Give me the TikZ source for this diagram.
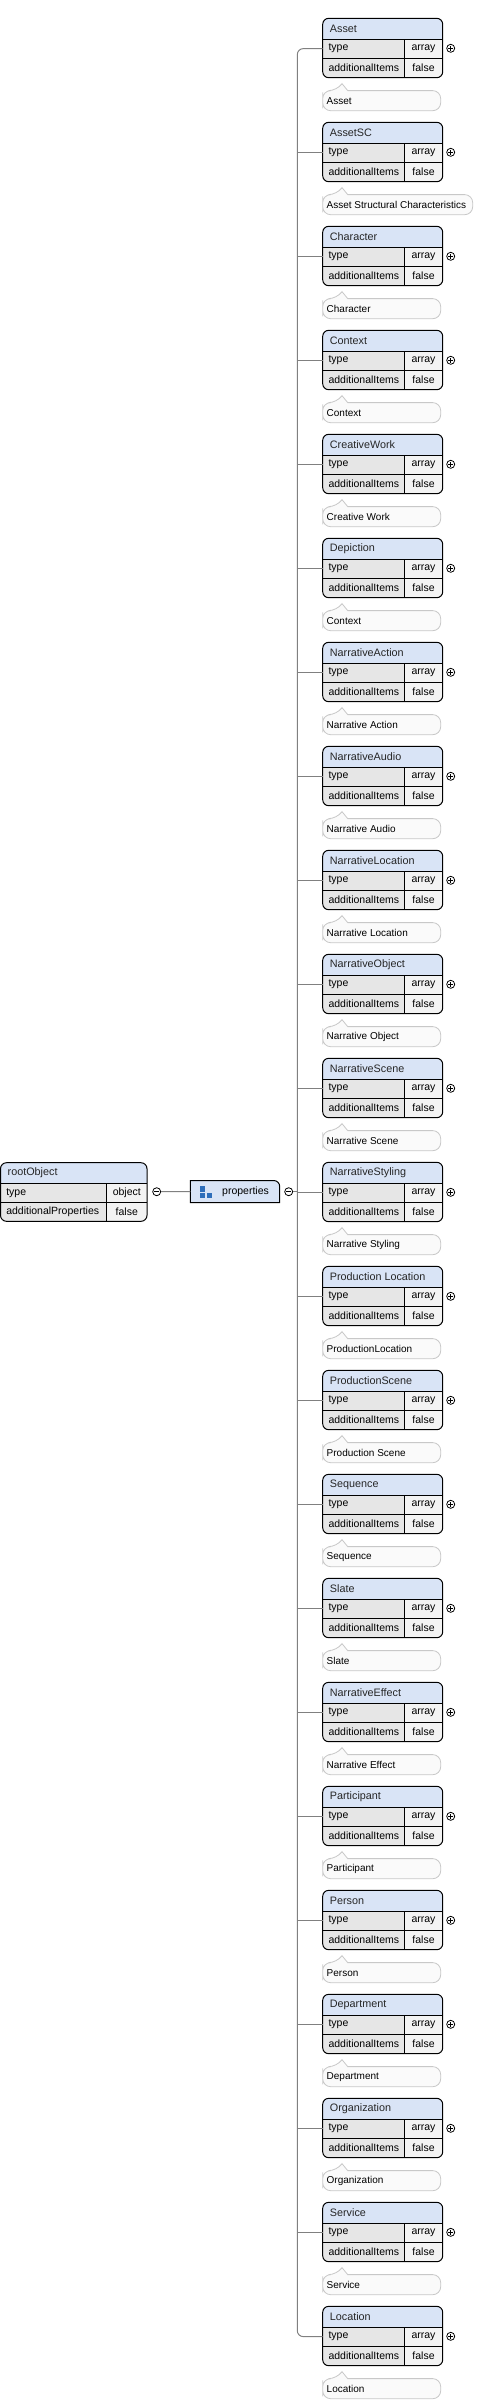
\documentclass[tikz,border=0pt]{standalone}
\usepackage{fontspec}
\setmainfont{Liberation Sans}
\usepackage{tikz}

\definecolor{hdrfill}{RGB}{217,228,246}
\definecolor{namefill}{RGB}{230,230,230}
\definecolor{valfill}{RGB}{243,243,243}
\definecolor{descfill}{RGB}{250,250,250}
\definecolor{descline}{RGB}{200,200,200}
\definecolor{connline}{RGB}{128,128,128}
\definecolor{iconblue}{RGB}{46,110,186}

\newcommand\hdrfont{\fontsize{10.8}{13}\selectfont}
\newcommand\rowfont{\fontsize{10.5}{12}\selectfont}
\newcommand\descfont{\fontsize{10}{12}\selectfont}

\begin{document}
\begin{tikzpicture}[x=1pt, y=-1pt,
  frame/.style={draw=black, line width=1pt},
  grid/.style={draw=black, line width=0.8pt},
  conn/.style={draw=connline, line width=1pt},
  hdrtxt/.style={font=\hdrfont, inner xsep=7pt, inner ysep=0pt, text=black!85},
  rowtxt/.style={font=\rowfont, inner xsep=5.6pt, inner ysep=0pt},
  desctxt/.style={font=\descfont, inner xsep=2.5pt, inner ysep=0pt},
  descbox/.style={draw=descline, fill=descfill, line width=0.8pt},
  xpand/.style={circle, draw=black, fill=white, line width=0.8pt, minimum size=8pt, inner sep=0pt,
    path picture={\draw[line width=0.7pt] ([xshift=-2.3pt]path picture bounding box.center) -- ([xshift=2.3pt]path picture bounding box.center);
                  \draw[line width=0.7pt] ([yshift=-2.3pt]path picture bounding box.center) -- ([yshift=2.3pt]path picture bounding box.center);}},
  clps/.style={circle, draw=black, fill=white, line width=0.8pt, minimum size=8pt, inner sep=0pt,
    path picture={\draw[line width=0.7pt] ([xshift=-2.3pt]path picture bounding box.center) -- ([xshift=2.3pt]path picture bounding box.center);}}]

\useasboundingbox (0,0) rectangle (481,2402);

% root object
\begin{scope}
\clip[rounded corners=6pt] (0.5,1162.7) rectangle (147,1221.3);
\fill[hdrfill] (0.5,1162.7) rectangle (147,1183.3);
\fill[namefill] (0.5,1183.3) rectangle (106.7,1221.3);
\fill[valfill] (106.7,1183.3) rectangle (147,1221.3);
\end{scope}
\draw[grid] (0.5,1183.3) -- (147,1183.3) (0.5,1202.5) -- (147,1202.5) (106.7,1183.3) -- (106.7,1221.3);
\draw[frame, rounded corners=6pt] (0.5,1162.7) rectangle (147,1221.3);
\node[hdrtxt, anchor=west] (root) at (0.5,1173) {rootObject};
\node[rowtxt, anchor=west] (rtype) at (0.5,1193) {type};
\node[rowtxt, anchor=west] (radd) at (0.5,1212) {additionalProperties};
\node[rowtxt] (rtypev) at (126.8,1193) {object};
\node[rowtxt] (raddv) at (126.8,1212) {false};
\node[clps] (rm) at (156.7,1191.7) {};

% properties
\node[minimum width=89pt, minimum height=21.6pt, inner sep=0pt, anchor=west] (prop) at (190.3,1191.5) {};
\filldraw[fill=hdrfill, draw=black, line width=1pt] (prop.south west) -- (prop.north west) -- ([xshift=-6pt]prop.north east)
  arc[start angle=90, end angle=0, radius=6pt] -- (prop.south east) -- cycle;
\fill[iconblue] (200,1186) rectangle (205,1191.5);
\fill[iconblue] (200,1192.7) rectangle (205,1197.7);
\fill[iconblue] (206.7,1192.7) rectangle (211.7,1197.7);
\node[rowtxt, anchor=west, inner xsep=0pt] (proptxt) at (222,1191.5) {properties};
\node[clps] (pm) at (288.7,1191.7) {};
\coordinate (spine) at (297.3,1191.7);
\draw[conn] (rm.east) -- (prop.west);
\draw[conn] (pm.east) -- (spine);

% items
\foreach \nm/\ds/\dw [count=\i from 0] in {
  Asset/Asset/118,
  AssetSC/Asset Structural Characteristics/150,
  Character/Character/118,
  Context/Context/118,
  CreativeWork/Creative Work/118,
  Depiction/Context/118,
  NarrativeAction/Narrative Action/118,
  NarrativeAudio/Narrative Audio/118,
  NarrativeLocation/Narrative Location/118,
  NarrativeObject/Narrative Object/118,
  NarrativeScene/Narrative Scene/118,
  NarrativeStyling/Narrative Styling/118,
  Production Location/ProductionLocation/118,
  ProductionScene/Production Scene/118,
  Sequence/Sequence/118,
  Slate/Slate/118,
  NarrativeEffect/Narrative Effect/118,
  Participant/Participant/118,
  Person/Person/118,
  Department/Department/118,
  Organization/Organization/118,
  Service/Service/118,
  Location/Location/118}
{
  \pgfmathsetmacro\T{18.3+104*\i}
  \begin{scope}
  \clip[rounded corners=6pt] (322.7,\T) rectangle (442.7,\T+59.4);
  \fill[hdrfill] (322.7,\T) rectangle (442.7,\T+21);
  \fill[namefill] (322.7,\T+21) rectangle (404.3,\T+59.4);
  \fill[valfill] (404.3,\T+21) rectangle (442.7,\T+59.4);
  \end{scope}
  \draw[grid] (322.7,\T+21) -- (442.7,\T+21) (322.7,\T+40.2) -- (442.7,\T+40.2) (404.3,\T+21) -- (404.3,\T+59.4);
  \draw[frame, rounded corners=6pt] (322.7,\T) rectangle (442.7,\T+59.4);
  \node[hdrtxt, anchor=west] (h\i) at (322.7,\T+10.5) {\nm};
  \node[rowtxt, anchor=west] (ty\i) at (322.7,\T+30.3) {type};
  \node[rowtxt, anchor=west] (ad\i) at (322.7,\T+49.8) {additionalItems};
  \node[rowtxt] (tv\i) at (423.5,\T+30.3) {array};
  \node[rowtxt] (av\i) at (423.5,\T+49.8) {false};
  \node[xpand] (x\i) at (450.7,\T+30) {};
  % description
  \filldraw[descbox] (322.7,\T+82) [rounded corners=8pt] |- (336.7,\T+72.3) [sharp corners] -- (342,\T+65.3)
    -- (347.7,\T+72.3) [rounded corners=8pt] -| (322.7+\dw,\T+92.4) -| (322.7,\T+82) -- cycle;
  \node[desctxt, anchor=west] (d\i) at (324,\T+82.4) {\ds};
}

% connectors
\draw[conn, rounded corners=6pt] (ty0.west) -| (spine) |- (ty22.west);
\foreach \i in {1,...,21}
  \draw[conn] (ty\i.west -| spine) -- (ty\i.west);

\end{tikzpicture}
\end{document}
